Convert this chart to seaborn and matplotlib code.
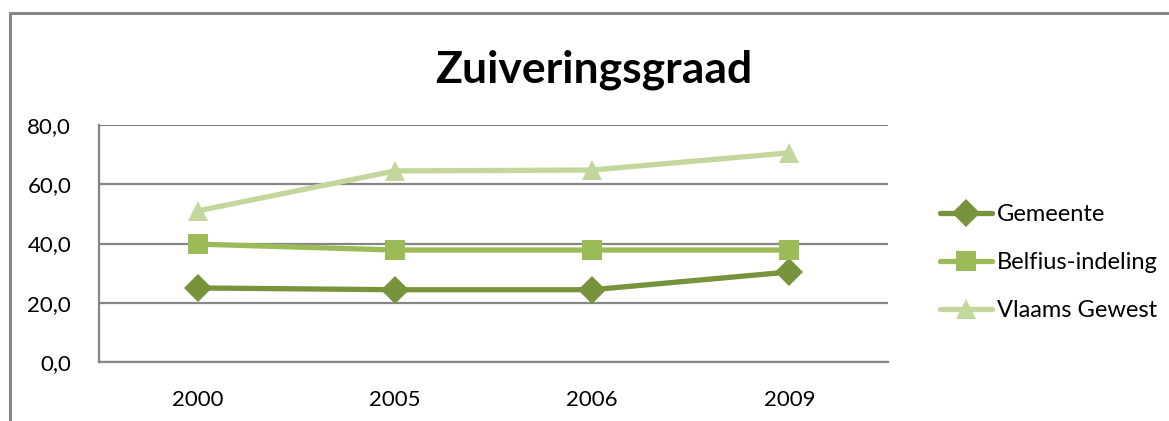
import seaborn as sns
import matplotlib.pyplot as plt
import pandas as pd
from matplotlib.lines import Line2D

sns.set_style("white")
plt.rcParams['font.family'] = ['Lato', 'DejaVu Sans']
plt.rcParams['text.color'] = 'black'

# Data
years = ["2000", "2005", "2006", "2009"]
gemeente = [25.0, 24.4, 24.4, 30.4]
belfius = [39.8, 37.8, 37.8, 37.8]
vlaams = [51.0, 64.5, 64.8, 70.6]
series_names = ["Gemeente", "Belfius-indeling", "Vlaams Gewest"]

df = pd.DataFrame({
    "Jaar": years * 3,
    "Waarde": gemeente + belfius + vlaams,
    "Reeks": [n for n in series_names for _ in years],
})

colors = {"Gemeente": "#77933C", "Belfius-indeling": "#9BBB59", "Vlaams Gewest": "#C3D69B"}
markers = {"Gemeente": "D", "Belfius-indeling": "s", "Vlaams Gewest": "^"}

fig = plt.figure(figsize=(11.69, 4.21), dpi=100)
ax = fig.add_axes([0.0847, 0.1401, 0.675, 0.5630])

sns.lineplot(data=df, x="Jaar", y="Waarde", hue="Reeks", style="Reeks",
             palette=colors, markers=markers, dashes=False, linewidth=3.8,
             markersize=14, markeredgewidth=0, ax=ax, legend=False, zorder=3)

ax.set_xlim(-0.5, 3.5)
ax.set_ylim(0, 80)
ax.set_yticks([0, 20, 40, 60, 80])
ax.set_yticklabels(["0,0", "20,0", "40,0", "60,0", "80,0"])
ax.yaxis.grid(True, color="#868686", linewidth=1.6)
ax.set_axisbelow(True)
ax.tick_params(axis="both", length=0, labelsize=16, colors="black")
ax.tick_params(axis="x", pad=20)
ax.tick_params(axis="y", pad=20)
ax.set_xlabel("")
ax.set_ylabel("")
for side in ["top", "right"]:
    ax.spines[side].set_visible(False)
for side in ["left", "bottom"]:
    ax.spines[side].set_color("#868686")
    ax.spines[side].set_linewidth(1.6)

fig.text(0.508, 0.835, "Zuiveringsgraad", ha="center", va="center",
         fontsize=32, fontweight="bold", color="black")

handles = [Line2D([0], [0], color=colors[n], marker=markers[n], linewidth=3.8,
                  markersize=14, markeredgewidth=0, solid_capstyle="round")
           for n in series_names]
fig.legend(handles, series_names, loc="center left", bbox_to_anchor=(0.786, 0.376),
           frameon=False, fontsize=17, handlelength=2.2, handletextpad=0.2,
           labelspacing=1.15, labelcolor="black")

# outer chart frame (left and top edges)
fig.add_artist(Line2D([0.0086, 0.0086], [0.0, 0.969], color="#868686", linewidth=2.2))
fig.add_artist(Line2D([0.0086, 0.999], [0.969, 0.969], color="#868686", linewidth=2.2))

fig.savefig("out.png", dpi=100)
